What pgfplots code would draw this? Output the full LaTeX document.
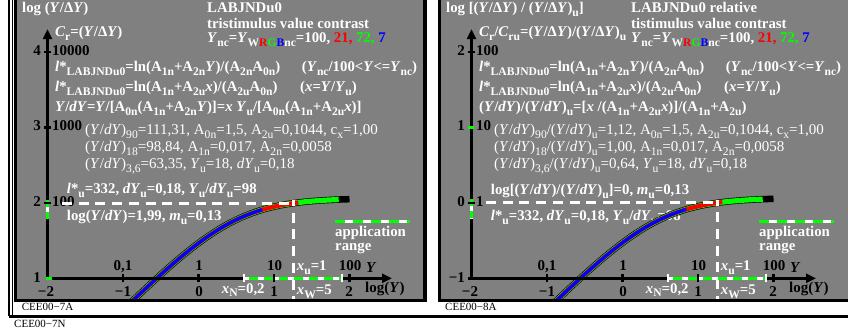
\documentclass[border=0pt]{standalone}
\usepackage{pgfplots}
\pgfplotsset{compat=1.18}
\usepackage{pgfplotstable}
\usepackage{fontspec}
\setmainfont{Liberation Serif}
\usetikzlibrary{arrows.meta}

\definecolor{panel}{RGB}{128,128,128}

\newcommand{\sub}[1]{\raisebox{-0.25em}{\fontsize{11.6}{12}\selectfont #1}}
\newcommand{\I}[1]{\textit{#1}}

\tikzset{
  wt/.style={text=white, font=\fontsize{14.8}{18}\selectfont\bfseries, anchor=base west, inner sep=0pt},
  rg/.style={text=white, font=\fontsize{15}{18}\selectfont, anchor=base west, inner sep=0pt},
  bk/.style={text=black, font=\fontsize{15}{18}\selectfont\bfseries, anchor=base, inner sep=0pt},
  lab/.style={text=black, font=\fontsize{11}{12}\selectfont, anchor=base west, inner sep=0pt},
}

% log10(Y/dY) against log10(Y), Y/dY = Y/[A0n(A1n+A2n Y)]
\pgfplotstableread{
L f
-1.0 0.5789
-0.9 0.6752
-0.8 0.7706
-0.7 0.8649
-0.6 0.9578
-0.5 1.0490
-0.4 1.1382
-0.3 1.2249
-0.2 1.3088
-0.1 1.3893
0.0 1.4660
0.1 1.5383
0.2 1.6057
0.3 1.6680
0.4 1.7247
0.5 1.7756
0.6 1.8209
0.7 1.8605
0.8 1.8948
0.845 1.9086
0.9 1.9241
1.0 1.9488
1.1 1.9696
1.2 1.9868
1.3 2.0010
1.322 2.0037
1.4 2.0126
1.5 2.0220
1.6 2.0296
1.7 2.0358
1.8 2.0408
1.857 2.0432
1.9 2.0447
2.0 2.0479
}\abscurve

% the same relative to (Y/dY)_u
\pgfplotstableread{
L f
-1.0 -1.4161
-0.9 -1.3198
-0.8 -1.2244
-0.7 -1.1301
-0.6 -1.0373
-0.5 -0.9460
-0.4 -0.8569
-0.3 -0.7701
-0.2 -0.6862
-0.1 -0.6057
0.0 -0.5290
0.1 -0.4567
0.2 -0.3893
0.3 -0.3270
0.4 -0.2704
0.5 -0.2194
0.6 -0.1741
0.7 -0.1345
0.8 -0.1002
0.845 -0.0864
0.9 -0.0709
1.0 -0.0462
1.1 -0.0254
1.2 -0.0082
1.3 0.0060
1.322 0.0087
1.4 0.0176
1.5 0.0270
1.6 0.0346
1.7 0.0408
1.8 0.0458
1.857 0.0482
1.9 0.0497
2.0 0.0529
}\relcurve

% text shared by both panels, #1 = x offset
\newcommand{\common}[1]{%
  \node[wt] at ({#1+207},42.7) {\I{Y}\sub{nc}=\I{Y}\sub{W\textcolor{red}{R}\textcolor{green}{G}\textcolor{blue}{B}nc}=100, \textcolor{red}{21,} \textcolor{green}{72,} \textcolor{blue}{7}};
  \node[wt] at ({#1+55},71.7) {\I{l}*\sub{LABJNDu0}=ln(A\sub{1n}+A\sub{2n}\I{Y})/(A\sub{2n}A\sub{0n})};
  \node[wt] at ({#1+301.7},71.7) {(\I{Y}\sub{nc}/100<\I{Y}<=\I{Y}\sub{nc})};
  \node[wt] at ({#1+55},91.7) {\I{l}*\sub{LABJNDu0}=ln(A\sub{1n}+A\sub{2u}\I{x})/(A\sub{2u}A\sub{0n})};
  \node[wt] at ({#1+300},91.7) {(\I{x}=\I{Y}/\I{Y}\sub{u})};
  \node[wt] at ({#1+335},237) {application};
  \node[wt] at ({#1+335},251) {range};
  \node[bk] at ({#1+123},271) {0,1};
  \node[bk] at ({#1+199},271) {1};
  \node[bk] at ({#1+274.5},271) {10};
  \node[bk] at ({#1+350},271) {100};
  \node[bk, anchor=base west] at ({#1+366},273) {\I{Y}};
  \node[wt] at ({#1+296.7},271) {\I{x}\sub{u}=1};
  \node[bk] at ({#1+46},297) {−2};
  \node[bk] at ({#1+123},297) {−1};
  \node[bk] at ({#1+199},297) {0};
  \node[bk] at ({#1+274},297) {1};
  \node[bk] at ({#1+349},297) {2};
  \node[wt] at ({#1+221.7},293.3) {\I{x}\sub{N}=0,2};
  \node[wt] at ({#1+296.7},295) {\I{x}\sub{W}=5};
  \node[bk, anchor=base west] at ({#1+365},293) {log(\I{Y})};
}

\begin{document}
\begin{tikzpicture}
\useasboundingbox (0,0) rectangle (848pt,331pt);
\fill[white] (0,0) rectangle (848pt,331pt);

\begin{scope}[shift={(0pt,331pt)}, x=1pt, y=-1pt]
  % frames
  \draw[line width=1.2pt] (9,-2) -- (9,316.5);
  \draw[line width=1pt] (12.5,-2) -- (12.5,316);
  \draw[line width=2.5pt] (9,316.5) -- (850,316.5);
  \fill[black] (14,-2) rectangle (427,302);
  \fill[panel] (17,-2) rectangle (423,299);
  \fill[black] (438,-2) rectangle (850,302);
  \fill[panel] (441,-2) rectangle (850,299);

  % left panel texts
  \node[wt] at (22,13) {log (\I{Y}/Δ\I{Y})};
  \node[wt] at (207,12.7) {LABJNDu0};
  \node[wt] at (207,28.3) {tristimulus value contrast};
  \node[wt] at (55,36.7) {\I{C}\sub{r}=(\I{Y}/Δ\I{Y})};
  \node[bk, anchor=base east] at (41,56) {4};
  \node[bk, anchor=base west] at (52,56) {10000};
  \node[bk, anchor=base east] at (41,131) {3};
  \node[bk, anchor=base west] at (52,131) {1000};
  \node[bk, anchor=base east] at (41,207) {2};
  \node[bk, anchor=base west] at (52,207) {100};
  \node[bk, anchor=base east] at (41,282.5) {1};
  \node[wt] at (55,111.7) {\I{Y}/\I{dY}=\I{Y}/[A\sub{0n}(A\sub{1n}+A\sub{2n}\I{Y})]=\I{x} \I{Y}\sub{u}/[A\sub{0n}(A\sub{1n}+A\sub{2u}\I{x})]};
  \node[rg] at (85,135) {(\I{Y}/\I{dY})\sub{90}=111,31, A\sub{0n}=1,5, A\sub{2u}=0,1044, c\sub{x}=1,00};
  \node[rg] at (85,151.7) {(\I{Y}/\I{dY})\sub{18}=98,84, A\sub{1n}=0,017, A\sub{2n}=0,0058};
  \node[rg] at (85,168.3) {(\I{Y}/\I{dY})\sub{3,6}=63,35, \I{Y}\sub{u}=18, \I{dY}\sub{u}=0,18};
  \node[wt] at (66.7,193.5) {\I{l}*\sub{u}=332, \I{dY}\sub{u}=0,18, \I{Y}\sub{u}/\I{dY}\sub{u}=98};
  \node[wt] at (66.7,221) {log(\I{Y}/\I{dY})=1,99, \I{m}\sub{u}=0,13};
  \common{0}
  \node[lab] at (21.7,310.7) {CEE00−7A};
  \node[lab] at (14,327.5) {CEE00−7N};

  % right panel texts
  \node[wt] at (446,13) {log [(\I{Y}/Δ\I{Y}) / (\I{Y}/Δ\I{Y})\sub{u}]};
  \node[wt] at (631,12.7) {LABJNDu0 relative};
  \node[wt] at (631,28.3) {tistimulus value contrast};
  \node[wt] at (479,36.7) {\I{C}\sub{r}/\I{C}\sub{ru}=(\I{Y}/Δ\I{Y})/(\I{Y}/Δ\I{Y})\sub{u}};
  \node[bk, anchor=base east] at (465,56) {2};
  \node[bk, anchor=base west] at (476,56) {100};
  \node[bk, anchor=base east] at (465,131) {1};
  \node[bk, anchor=base west] at (476,131) {10};
  \node[bk, anchor=base east] at (465,207) {0};
  \node[bk, anchor=base west] at (476,207) {1};
  \node[bk, anchor=base east] at (465,282.5) {−1};
  \node[wt] at (479,111.7) {(\I{Y}/\I{dY})/(\I{Y}/\I{dY})\sub{u}=[\I{x} /(A\sub{1n}+A\sub{2u}\I{x})]/(A\sub{1n}+A\sub{2u})};
  \node[rg] at (494,135) {(\I{Y}/\I{dY})\sub{90}/(\I{Y}/\I{dY})\sub{u}=1,12, A\sub{0n}=1,5, A\sub{2u}=0,1044, c\sub{x}=1,00};
  \node[rg] at (494,151.7) {(\I{Y}/\I{dY})\sub{18}/(\I{Y}/\I{dY})\sub{u}=1,00, A\sub{1n}=0,017, A\sub{2n}=0,0058};
  \node[rg] at (494,168.3) {(\I{Y}/\I{dY})\sub{3,6}/(\I{Y}/\I{dY})\sub{u}=0,64, \I{Y}\sub{u}=18, \I{dY}\sub{u}=0,18};
  \node[wt] at (490.7,195) {log[(\I{Y}/\I{dY})/(\I{Y}/\I{dY})\sub{u}]=0, \I{m}\sub{u}=0,13};
  \node[wt] at (490.7,221) {\I{l}*\sub{u}=332, \I{dY}\sub{u}=0,18, \I{Y}\sub{u}/\I{dY}\sub{u}=98};
  \common{424}
  \node[lab] at (445,310.7) {CEE00−8A};
\end{scope}

% left panel: absolute contrast
\begin{axis}[at={(17pt,32pt)}, anchor=south west, x=75.5pt, y=75.5pt,
  xmin=-2.404, xmax=2.974, ymin=0.726, ymax=4.686, hide axis]
\addplot[black, line width=6.5pt] table[x=L, y=f] {\abscurve};
\addplot[green, line width=5.2pt, restrict x to domain=-2:1.858] table[x=L, y=f] {\abscurve};
\addplot[red, line width=4.2pt, restrict x to domain=-2:1.323] table[x=L, y=f] {\abscurve};
\addplot[blue, line width=3.3pt, restrict x to domain=-2:0.846] table[x=L, y=f] {\abscurve};
\draw[line width=2.5pt, -{Triangle[width=9pt,length=10pt]}] (axis cs:-2,1) -- (axis cs:-2,4.30);
\draw[line width=2.5pt, -{Triangle[width=9pt,length=10pt]}] (axis cs:-2,1) -- (axis cs:2.563,1);
\draw[white, line width=3pt, dash pattern=on 10pt off 6.7pt] (axis cs:-1.808,1.995) -- (axis cs:1.255,1.995);
\draw[white, line width=3pt, dash pattern=on 10pt off 6.7pt, dash phase=4pt] (axis cs:1.255,2.037) -- (axis cs:1.255,0.726);
\draw[white, line width=3pt] (axis cs:0.6,1) -- (axis cs:1.9,1);
\draw[green, line width=3pt, dash pattern=on 9pt off 6pt, dash phase=-5pt] (axis cs:0.6,1) -- (axis cs:1.9,1);
\draw[white, line width=2.5pt] (axis cs:0.6,0.947) -- (axis cs:0.6,1.053);
\draw[white, line width=2.5pt] (axis cs:1.9,0.947) -- (axis cs:1.9,1.053);
\draw[white, line width=3pt] (axis cs:-2,2.04) -- (axis cs:-2,1.78);
\draw[green, line width=3pt, dash pattern=on 7pt off 5pt] (axis cs:-2,2.04) -- (axis cs:-2,1.78);
\draw[white, line width=3pt] (axis cs:1.808,1.75) -- (axis cs:2.801,1.75);
\draw[green, line width=3pt, dash pattern=on 10pt off 8pt] (axis cs:1.808,1.75) -- (axis cs:2.801,1.75);
\draw[line width=2.5pt] (axis cs:-2.05,2) -- (axis cs:-1.95,2);
\draw[line width=2.5pt] (axis cs:-2.05,3) -- (axis cs:-1.95,3);
\draw[line width=2.5pt] (axis cs:-2.05,4) -- (axis cs:-1.95,4);
\draw[line width=2.5pt] (axis cs:-1,0.947) -- (axis cs:-1,1.053);
\draw[line width=2.5pt] (axis cs:0,0.947) -- (axis cs:0,1.053);
\draw[line width=2.5pt] (axis cs:1,0.947) -- (axis cs:1,1.053);
\draw[line width=2.5pt] (axis cs:2,0.947) -- (axis cs:2,1.053);
\draw[green, line width=3pt] (axis cs:-2.02,1) -- (axis cs:-1.94,1);
\end{axis}

% right panel: contrast relative to (Y/dY)_u
\begin{axis}[at={(441pt,32pt)}, anchor=south west, x=75.5pt, y=75.5pt,
  xmin=-2.404, xmax=2.974, ymin=-1.274, ymax=2.686, hide axis]
\addplot[black, line width=6.5pt] table[x=L, y=f] {\relcurve};
\addplot[green, line width=5.2pt, restrict x to domain=-2:1.858] table[x=L, y=f] {\relcurve};
\addplot[red, line width=4.2pt, restrict x to domain=-2:1.323] table[x=L, y=f] {\relcurve};
\addplot[blue, line width=3.3pt, restrict x to domain=-2:0.846] table[x=L, y=f] {\relcurve};
\draw[line width=2.5pt, -{Triangle[width=9pt,length=10pt]}] (axis cs:-2,-1) -- (axis cs:-2,2.30);
\draw[line width=2.5pt, -{Triangle[width=9pt,length=10pt]}] (axis cs:-2,-1) -- (axis cs:2.563,-1);
\draw[white, line width=3pt, dash pattern=on 10pt off 6.7pt] (axis cs:-1.808,0) -- (axis cs:1.255,0);
\draw[white, line width=3pt, dash pattern=on 10pt off 6.7pt, dash phase=4pt] (axis cs:1.255,0.042) -- (axis cs:1.255,-1.274);
\draw[white, line width=3pt] (axis cs:0.6,-1) -- (axis cs:1.9,-1);
\draw[green, line width=3pt, dash pattern=on 9pt off 6pt, dash phase=-5pt] (axis cs:0.6,-1) -- (axis cs:1.9,-1);
\draw[white, line width=2.5pt] (axis cs:0.6,-1.053) -- (axis cs:0.6,-0.947);
\draw[white, line width=2.5pt] (axis cs:1.9,-1.053) -- (axis cs:1.9,-0.947);
\draw[white, line width=3pt] (axis cs:-2,0.045) -- (axis cs:-2,-0.215);
\draw[green, line width=3pt, dash pattern=on 7pt off 5pt] (axis cs:-2,0.045) -- (axis cs:-2,-0.215);
\draw[white, line width=3pt] (axis cs:1.808,-0.25) -- (axis cs:2.801,-0.25);
\draw[green, line width=3pt, dash pattern=on 10pt off 8pt] (axis cs:1.808,-0.25) -- (axis cs:2.801,-0.25);
\draw[line width=2.5pt] (axis cs:-2.05,-1) -- (axis cs:-1.95,-1);
\draw[line width=2.5pt] (axis cs:-2.05,0) -- (axis cs:-1.95,0);
\draw[line width=2.5pt] (axis cs:-2.05,2) -- (axis cs:-1.95,2);
\draw[line width=2.5pt] (axis cs:-1,-1.053) -- (axis cs:-1,-0.947);
\draw[line width=2.5pt] (axis cs:0,-1.053) -- (axis cs:0,-0.947);
\draw[line width=2.5pt] (axis cs:1,-1.053) -- (axis cs:1,-0.947);
\draw[line width=2.5pt] (axis cs:2,-1.053) -- (axis cs:2,-0.947);
\draw[green, line width=3pt] (axis cs:-2.045,1) -- (axis cs:-1.965,1);
\end{axis}
\end{tikzpicture}
\end{document}
